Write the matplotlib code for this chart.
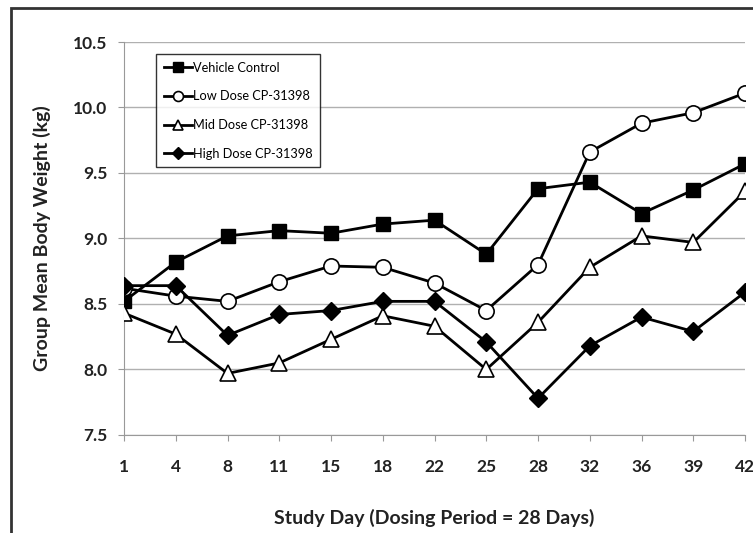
import matplotlib
matplotlib.use("Agg")
import matplotlib.pyplot as plt
from matplotlib.patches import Rectangle

plt.rcParams["font.family"] = ["Lato", "DejaVu Sans"]

days = ["1", "4", "8", "11", "15", "18", "22", "25", "28", "32", "36", "39", "42"]
vehicle = [8.52, 8.82, 9.02, 9.06, 9.04, 9.11, 9.14, 8.88, 9.38, 9.43, 9.19, 9.37, 9.57]
low_dose = [8.62, 8.56, 8.52, 8.67, 8.79, 8.78, 8.66, 8.45, 8.80, 9.66, 9.88, 9.96, 10.11]
mid_dose = [8.43, 8.27, 7.97, 8.05, 8.23, 8.41, 8.33, 8.00, 8.36, 8.78, 9.02, 8.97, 9.36]
high_dose = [8.64, 8.64, 8.26, 8.42, 8.45, 8.52, 8.52, 8.21, 7.78, 8.18, 8.40, 8.29, 8.59]

fig = plt.figure(figsize=(7.53, 5.33), dpi=100)
ax = fig.add_axes([0.1647, 0.1839, 0.8247, 0.7373])

# outer chart frame (cropped on right/bottom like the source)
fig.patches.append(Rectangle((11 / 753, -0.1), 1.2, 1 - 8 / 533 + 0.1, transform=fig.transFigure,
                             fill=False, edgecolor="#333333", linewidth=2))

x = list(range(len(days)))
ax.plot(x, vehicle, color="black", lw=2, marker="s", ms=10, mfc="black", mec="black",
        label="Vehicle Control", zorder=3)
ax.plot(x, low_dose, color="black", lw=2, marker="o", ms=11, mfc="white", mec="black", mew=1.2,
        label="Low Dose CP-31398", zorder=3)
ax.plot(x, mid_dose, color="black", lw=2, marker="^", ms=12, mfc="white", mec="black", mew=1.2,
        label="Mid Dose CP-31398", zorder=3)
ax.plot(x, high_dose, color="black", lw=2, marker="D", ms=9, mfc="black", mec="black",
        label="High Dose CP-31398", zorder=3)

ax.set_xlim(0, len(days) - 1)
ax.set_ylim(7.5, 10.5)
ax.set_xticks(x)
ax.set_xticklabels(days)
ax.set_yticks([7.5, 8.0, 8.5, 9.0, 9.5, 10.0, 10.5])
ax.set_yticklabels([f"{v:.1f}" for v in [7.5, 8.0, 8.5, 9.0, 9.5, 10.0, 10.5]])
ax.yaxis.grid(True, color="#b0b0b0", lw=1)
ax.set_axisbelow(True)
for s in ["top", "right"]:
    ax.spines[s].set_visible(False)
for s in ["left", "bottom"]:
    ax.spines[s].set_color("#999999")
ax.tick_params(axis="both", color="#999999", length=4, labelsize=12.5, labelcolor="#222222")
ax.tick_params(axis="x", pad=13)
ax.tick_params(axis="y", pad=8)
for lab in ax.get_xticklabels() + ax.get_yticklabels():
    lab.set_fontweight("bold")

ax.set_ylabel("Group Mean Body Weight (kg)", fontsize=14, fontweight="bold", labelpad=16, color="#222222")
ax.set_xlabel("Study Day (Dosing Period = 28 Days)", fontsize=14, fontweight="bold", labelpad=25, color="#222222")

leg = ax.legend(loc="upper left", bbox_to_anchor=(0.0515, 0.969), borderaxespad=0, fontsize=9.2,
                frameon=True, fancybox=False, edgecolor="black", handlelength=2.2, markerscale=0.65,
                borderpad=0.6, labelspacing=1.3, handletextpad=0.1)
leg.get_frame().set_linewidth(1)

fig.savefig("out.png", dpi=100)
